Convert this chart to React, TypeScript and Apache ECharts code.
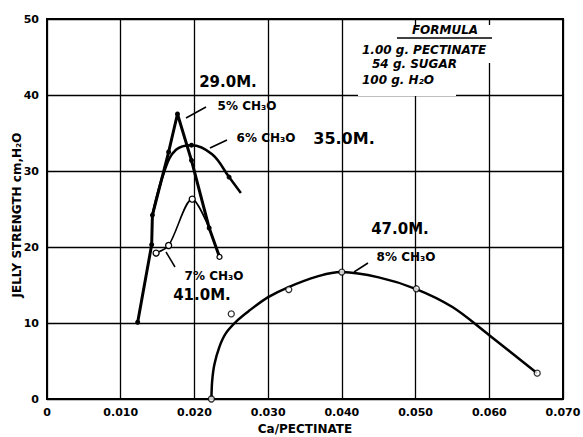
import React, { useEffect, useRef } from "react";
import * as echarts from "echarts";

// Tick labels
const xTicks = [0, 0.01, 0.02, 0.03, 0.04, 0.05, 0.06, 0.07];
const yTicks = [0, 10, 20, 30, 40, 50];

// 5% CH3O (thick, filled dots)
const s5: [number, number][] = [
  [0.0123, 10.1], [0.0142, 20.3], [0.0143, 24.2], [0.0165, 32.5],
  [0.0177, 37.5], [0.0196, 31.4], [0.0220, 22.5], [0.0234, 18.7],
];
const s5Open = [false, false, false, false, false, false, false, true];

// 6% CH3O (smooth curve)
const s6: [number, number][] = [
  [0.0143, 24.2], [0.0160, 30.2], [0.0175, 32.8], [0.0196, 33.4], [0.0224, 32.2],
  [0.0247, 29.2], [0.0263, 27.1],
];
const s6Marked = [false, false, false, true, false, true, false];

// 7% CH3O (thin, open circles)
const s7: [number, number][] = [
  [0.0148, 19.2], [0.0165, 20.2], [0.0197, 26.3], [0.0220, 22.5],
];
const s7Marked = [true, true, true, false];

// 8% CH3O fitted curve
const s8Curve: [number, number][] = [
  [0.0223, 0], [0.0224, 2.3], [0.0227, 4.5], [0.0234, 6.9], [0.0243, 8.7],
  [0.0259, 10.4], [0.0274, 11.6], [0.030, 13.4], [0.0327, 14.7], [0.0366, 16.1],
  [0.040, 16.7], [0.045, 16.0], [0.050, 14.5], [0.055, 12.1],
  [0.060, 8.4], [0.0665, 3.4],
];
// 8% CH3O measured points (open circles)
const s8Points: [number, number][] = [
  [0.0223, 0], [0.0250, 11.2], [0.0328, 14.4], [0.0400, 16.7],
  [0.0501, 14.5], [0.0665, 3.4],
];

const FONT = "DejaVu Sans";

// Catmull-Rom spline through pixel points -> SVG path data
function splinePath(pts: number[][]): string {
  if (pts.length < 2) return "";
  let d = `M${pts[0][0]},${pts[0][1]}`;
  for (let i = 0; i < pts.length - 1; i++) {
    const p0 = pts[i - 1] || pts[i];
    const p1 = pts[i];
    const p2 = pts[i + 1];
    const p3 = pts[i + 2] || p2;
    const c1x = p1[0] + (p2[0] - p0[0]) / 6;
    const c1y = p1[1] + (p2[1] - p0[1]) / 6;
    const c2x = p2[0] - (p3[0] - p1[0]) / 6;
    const c2y = p2[1] - (p3[1] - p1[1]) / 6;
    d += ` C${c1x},${c1y} ${c2x},${c2y} ${p2[0]},${p2[1]}`;
  }
  return d;
}

export default function App() {
  const ref = useRef<HTMLDivElement>(null);
  useEffect(() => {
    if (!ref.current) return;
    const chart = echarts.init(ref.current, undefined, { renderer: "svg" });
    const openStyle = { color: "#fff", borderColor: "#000", borderWidth: 1.3 };
    const hand = (text: string, x: number, y: number, size = 15) => ({
      type: "text",
      x,
      y,
      z: 100,
      style: {
        text,
        fill: "#000",
        font: `bold ${size}px ${FONT}`,
        textAlign: "center",
        textVerticalAlign: "middle",
      },
    });
    const small = (text: string, x: number, y: number, italic = false, align = "center") => ({
      type: "text",
      x,
      y,
      z: 100,
      style: {
        text,
        fill: "#000",
        font: `${italic ? "italic " : ""}bold 12px ${FONT}`,
        textAlign: align,
        textVerticalAlign: "middle",
      },
    });
    const lead = (x1: number, y1: number, x2: number, y2: number) => ({
      type: "line",
      z: 100,
      shape: { x1, y1, x2, y2 },
      style: { stroke: "#000", lineWidth: 1.5 },
    });
    chart.setOption({
      animation: false,
      backgroundColor: "#fff",
      grid: {
        left: 47,
        top: 19,
        right: 20,
        bottom: 38,
        show: true,
        borderColor: "#000",
        borderWidth: 2,
        containLabel: false,
        outerBoundsMode: "none",
      },
      xAxis: {
        type: "value",
        min: xTicks[0],
        max: xTicks[xTicks.length - 1],
        interval: 0.01,
        axisLine: { show: true, lineStyle: { color: "#000", width: 2 } },
        axisTick: { show: false },
        splitLine: { show: true, lineStyle: { color: "#000", width: 1.3 } },
        axisLabel: {
          color: "#000",
          fontFamily: FONT,
          fontWeight: "bold",
          fontSize: 11,
          margin: 8,
          formatter: (v: number) => (v === 0 ? "0" : v.toFixed(3)),
        },
        name: "Ca/PECTINATE",
        nameLocation: "middle",
        nameGap: 22,
        nameTextStyle: { color: "#000", fontFamily: FONT, fontWeight: "bold", fontSize: 12 },
      },
      yAxis: {
        type: "value",
        min: yTicks[0],
        max: yTicks[yTicks.length - 1],
        interval: 10,
        axisLine: { show: true, lineStyle: { color: "#000", width: 2 } },
        axisTick: { show: false },
        splitLine: { show: true, lineStyle: { color: "#000", width: 1.3 } },
        axisLabel: {
          color: "#000",
          fontFamily: FONT,
          fontWeight: "bold",
          fontSize: 11,
          margin: 8,
        },
      },
      series: [
        {
          name: "5% CH3O",
          type: "line",
          data: s5.map((p, i) => ({
            value: p,
            itemStyle: s5Open[i] ? openStyle : { color: "#000" },
          })),
          symbol: "circle",
          symbolSize: 5,
          lineStyle: { color: "#000", width: 3 },
          itemStyle: { color: "#000" },
          z: 5,
        },
        {
          name: "6% CH3O",
          type: "line",
          smooth: 0.4,
          data: s6.map((p, i) => ({
            value: p,
            symbol: s6Marked[i] ? "circle" : "none",
          })),
          symbolSize: 5,
          lineStyle: { color: "#000", width: 2.5 },
          itemStyle: { color: "#000" },
          z: 4,
        },
        {
          name: "7% CH3O",
          type: "line",
          smooth: 0.3,
          data: s7.map((p, i) => ({
            value: p,
            symbol: s7Marked[i] ? "circle" : "none",
          })),
          symbolSize: 6,
          lineStyle: { color: "#000", width: 1.6 },
          itemStyle: openStyle,
          z: 6,
        },
        {
          name: "8% CH3O",
          type: "custom",
          data: s8Curve,
          encode: { x: 0, y: 1 },
          z: 4,
          renderItem: (params: any, api: any) => {
            if (params.dataIndex !== 0) return null;
            const pts = s8Curve.map((p) => api.coord(p));
            return {
              type: "path",
              shape: { pathData: splinePath(pts) },
              style: { fill: "none", stroke: "#000", lineWidth: 2.5 },
            };
          },
        },
        {
          name: "8% CH3O points",
          type: "scatter",
          data: s8Points,
          symbol: "circle",
          symbolSize: 6,
          itemStyle: openStyle,
          z: 7,
        },
      ],
      graphic: [
        // y-axis title
        {
          type: "text",
          x: 17,
          y: 215,
          rotation: Math.PI / 2,
          z: 100,
          style: {
            text: "JELLY STRENGTH cm,H₂O",
            fill: "#000",
            font: `bold 12px ${FONT}`,
            textAlign: "center",
            textVerticalAlign: "middle",
          },
        },
        // formula box blanks
        { type: "rect", z: 50, shape: { x: 358, y: 25, width: 172, height: 38 }, style: { fill: "#fff" } },
        { type: "rect", z: 50, shape: { x: 358, y: 62, width: 98, height: 34 }, style: { fill: "#fff" } },
        small("FORMULA", 445, 30, true),
        lead(397, 38, 492, 38),
        small("1.00 g. PECTINATE", 362, 50, true, "left"),
        small("54 g. SUGAR", 372, 64, true, "left"),
        small("100 g. H₂O", 362, 80, true, "left"),
        // annotations
        hand("29.0M.", 228, 82, 15),
        small("5% CH₃O", 247, 106),
        lead(206, 107, 186, 118),
        small("6% CH₃O", 266, 138),
        lead(227, 140, 210, 148),
        hand("35.0M.", 344, 138, 16),
        small("7% CH₃O", 214, 276),
        lead(175, 267, 166, 252),
        hand("41.0M.", 202, 295, 15),
        hand("47.0M.", 400, 229, 15),
        small("8% CH₃O", 406, 257),
        lead(368, 263, 354, 272),
      ],
    });
    return () => chart.dispose();
  }, []);
  return (
    <div
      ref={ref}
      style={{ position: "fixed", left: 0, top: 0, width: 583, height: 437 }}
    />
  );
}
